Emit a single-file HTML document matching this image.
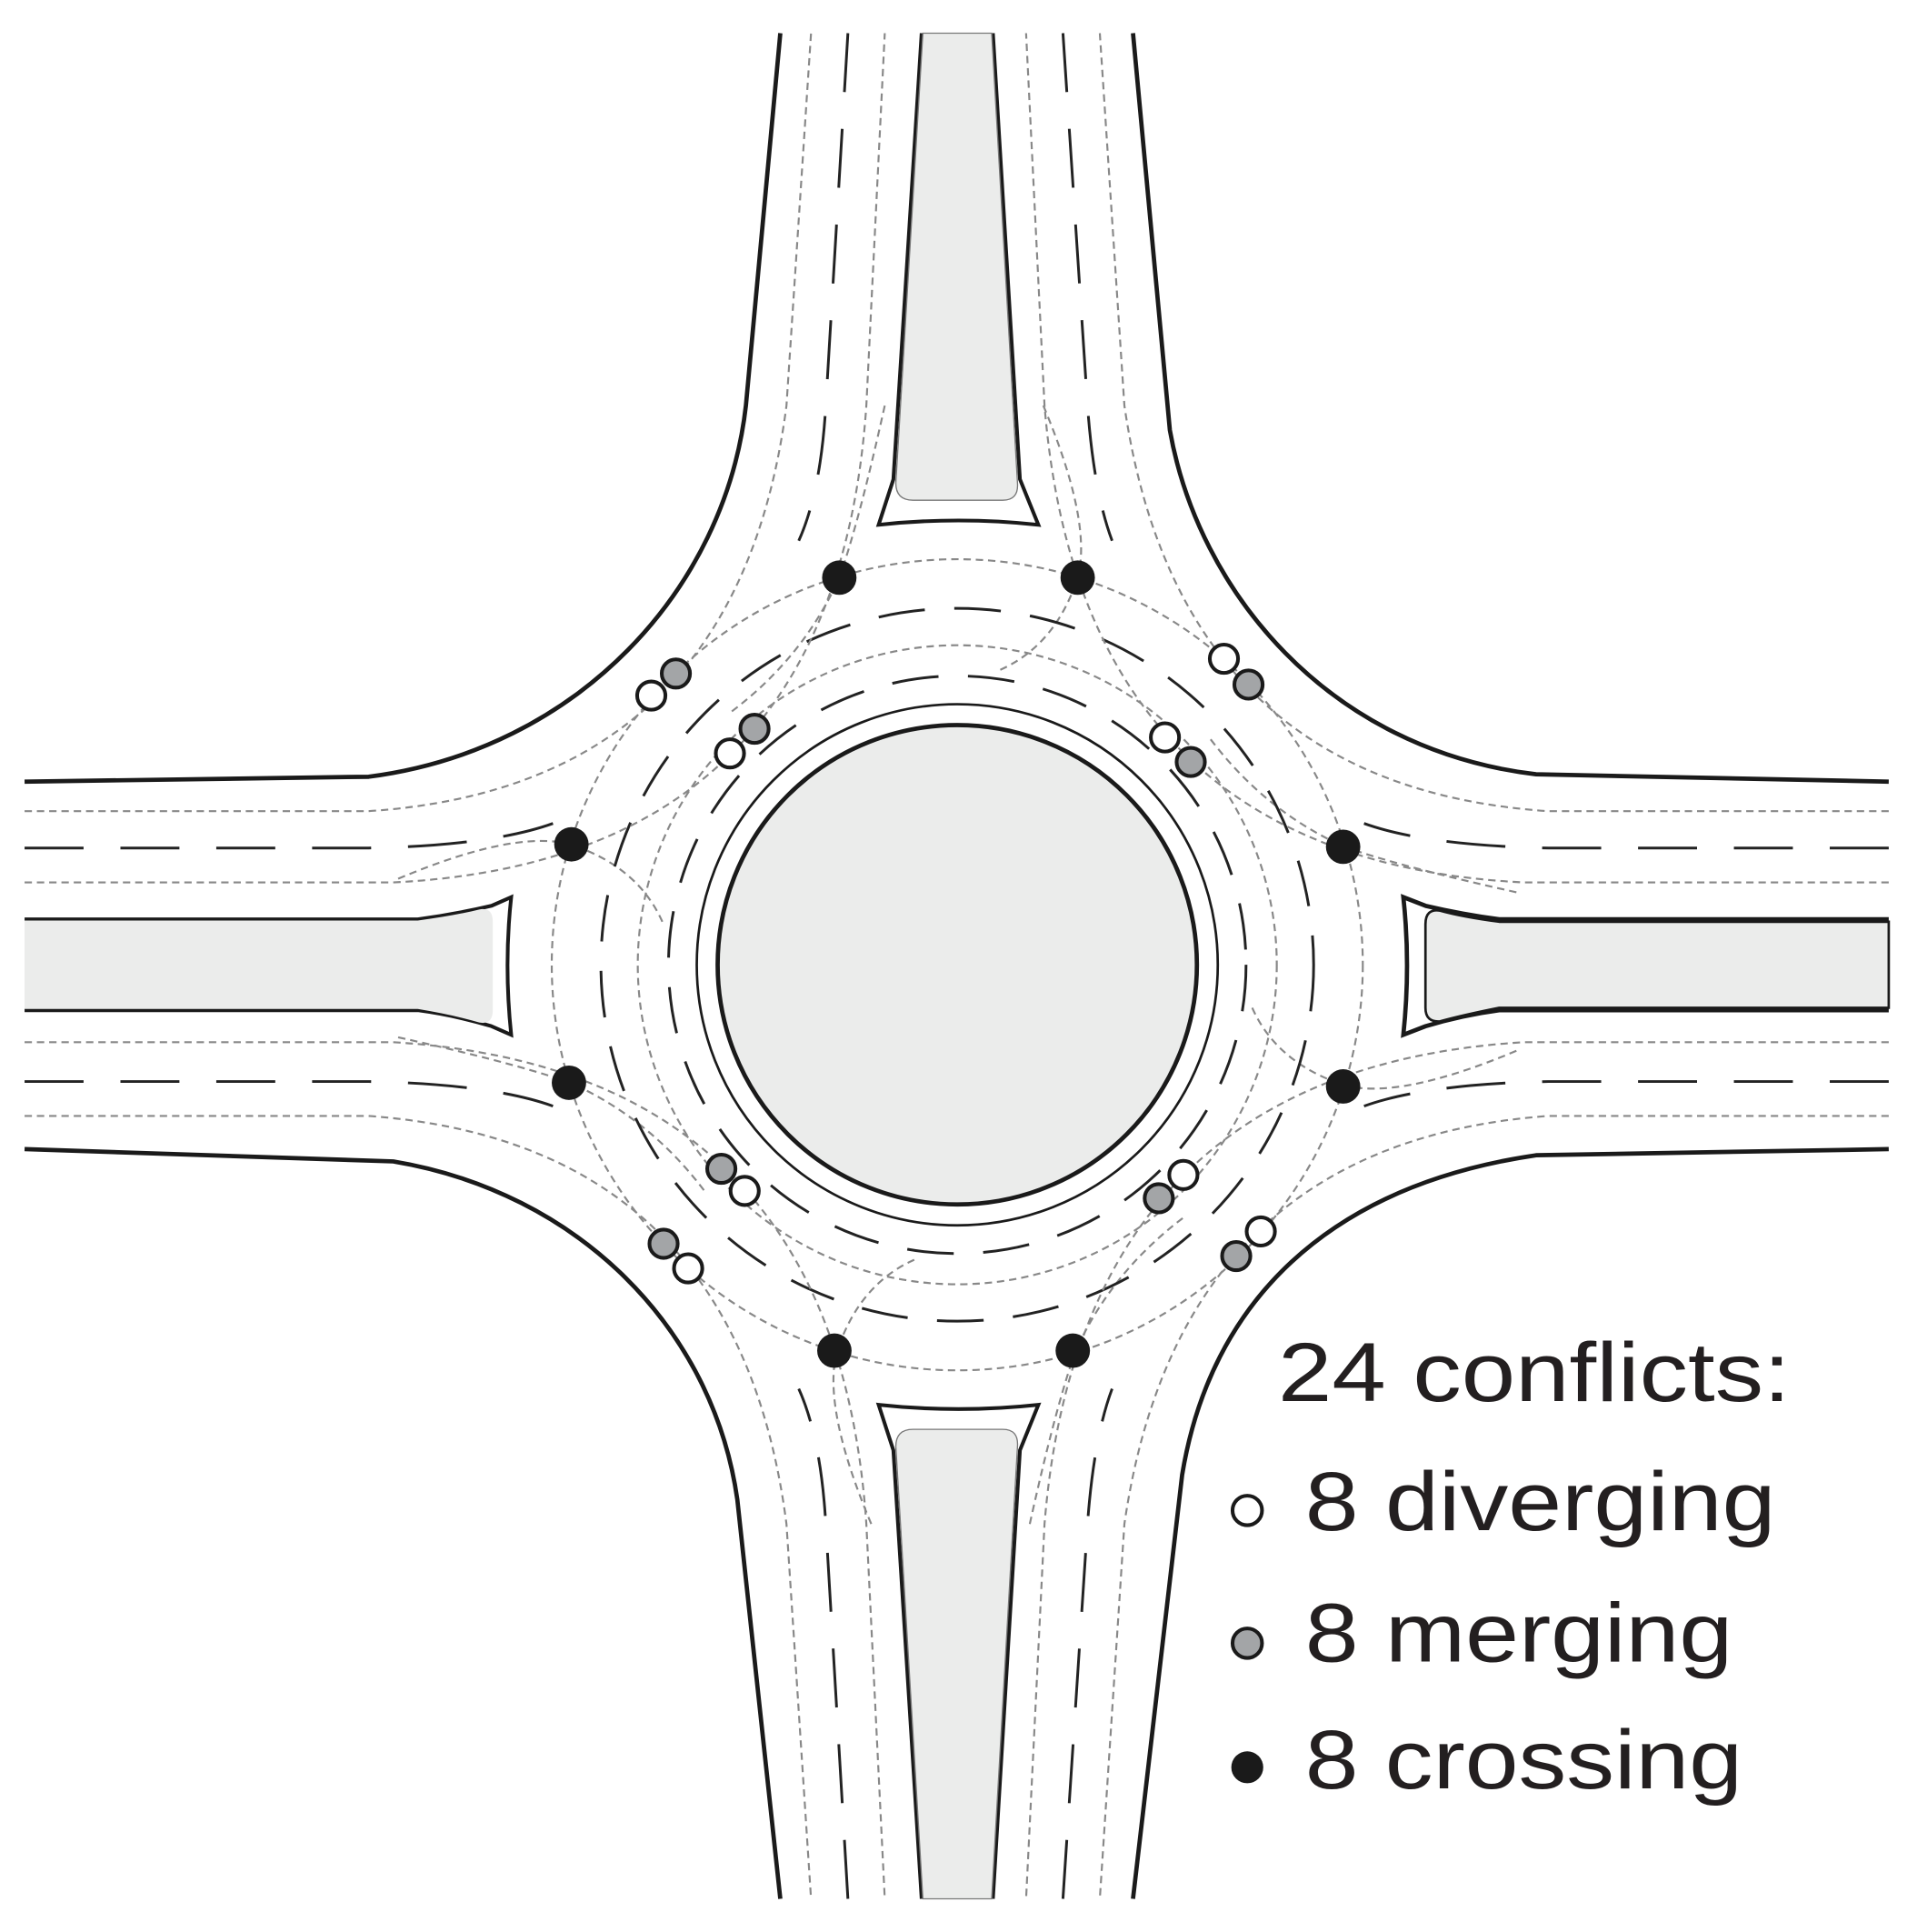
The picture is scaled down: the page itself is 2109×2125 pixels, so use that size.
<!DOCTYPE html>
<html><head><meta charset="utf-8">
<style>html,body{margin:0;padding:0;background:#fff}svg{display:block}</style>
</head><body>
<svg width="2109" height="2125" viewBox="0 0 1560 1572" preserveAspectRatio="none" xmlns="http://www.w3.org/2000/svg">
<rect width="1560" height="1572" fill="#fff"/>
<defs>
<g id="arm">
  <path d="M -59 -455 Q -80 -360 -96 -315 Q -125 -250 -185 -205" fill="none" stroke="#888" stroke-width="1.6" stroke-dasharray="6 4"/>
  <path d="M 70 -455 Q 110 -360 98 -315 Q 80 -260 35 -240" fill="none" stroke="#888" stroke-width="1.6" stroke-dasharray="6 4"/>
</g>
</defs>

<!-- ring -->
<g transform="translate(779 785)">
  <use href="#arm"/>
  <use href="#arm" transform="rotate(90)"/>
  <use href="#arm" transform="rotate(180)"/>
  <use href="#arm" transform="rotate(270)"/>
  <circle r="330" fill="none" stroke="#888" stroke-width="1.6" stroke-dasharray="6 4"/>
  <circle r="290" fill="none" stroke="#222" stroke-width="2.2" stroke-dasharray="38 24"/>
  <circle r="260" fill="none" stroke="#888" stroke-width="1.6" stroke-dasharray="6 4"/>
  <circle r="235" fill="none" stroke="#222" stroke-width="2.2" stroke-dasharray="38 24"/>
  <circle r="212" fill="none" stroke="#1a1a1a" stroke-width="2"/>
  <circle r="195" fill="#ebeceb" stroke="#1a1a1a" stroke-width="3.5"/>
</g>

<!-- road edges -->
<g fill="none" stroke="#1a1a1a" stroke-width="3.5">
  <path d="M 635 27 L 607 330 C 590 480 470 610 300 632 L 20 636"/>
  <path d="M 922 27 L 952 350 C 975 480 1080 610 1250 630 L 1537 636"/>
  <path d="M 20 935 L 320 945 C 470 970 580 1080 600 1220 L 635 1545"/>
  <path d="M 1537 935 L 1250 940 C 1080 965 985 1060 962 1200 L 922 1545"/>
</g>

<!-- gray corner paths -->
<g fill="none" stroke="#888" stroke-width="1.6" stroke-dasharray="6 4">
  <path d="M 20 660 L 300 660 Q 600 640 640 330 L 660 27"/>
  <path d="M 20 718 L 320 718 Q 680 700 705 330 L 720 27"/>
  <path d="M 1537 660 L 1260 660 Q 960 640 915 330 L 895 27"/>
  <path d="M 1537 718 L 1240 718 Q 880 700 850 330 L 835 27"/>
  <path d="M 20 908 L 300 908 Q 600 930 640 1240 L 660 1545"/>
  <path d="M 20 848 L 320 848 Q 680 870 705 1240 L 720 1545"/>
  <path d="M 1537 908 L 1260 908 Q 960 930 915 1240 L 895 1545"/>
  <path d="M 1537 848 L 1240 848 Q 880 870 850 1240 L 835 1545"/>
</g>

<!-- black dashed lane lines -->
<g fill="none" stroke="#222" stroke-width="2.2" stroke-dasharray="48 30">
  <path d="M 20 690 L 300 690 Q 400 688 450 670"/>
  <path d="M 20 880 L 300 880 Q 400 882 450 900"/>
  <path d="M 1537 690 L 1260 690 Q 1160 688 1110 670"/>
  <path d="M 1537 880 L 1260 880 Q 1160 882 1110 900"/>
  <path d="M 690 27 L 672 330 Q 668 400 650 440"/>
  <path d="M 865 27 L 885 330 Q 890 400 905 440"/>
  <path d="M 690 1545 L 672 1240 Q 668 1170 650 1130"/>
  <path d="M 865 1545 L 885 1240 Q 890 1170 905 1130"/>
</g>

<!-- splitter islands -->
<!-- top -->
<path d="M 750 27 L 727 390 L 715 427 Q 780 420 845 427 L 830 390 L 808 27" fill="none" stroke="#1a1a1a" stroke-width="3"/>
<path d="M 751 27 L 729 393 Q 729 407 743 407 L 816 407 Q 829 407 828 393 L 807 27 Z" fill="#ebeceb" stroke="#777" stroke-width="1"/>
<!-- bottom -->
<path d="M 750 1545 L 727 1180 L 715 1143 Q 780 1150 845 1143 L 830 1180 L 808 1545" fill="none" stroke="#1a1a1a" stroke-width="3"/>
<path d="M 751 1545 L 729 1177 Q 729 1163 743 1163 L 816 1163 Q 829 1163 828 1177 L 807 1545 Z" fill="#ebeceb" stroke="#777" stroke-width="1"/>
<!-- left -->
<path d="M 20 748 L 340 748 Q 370 744 400 737 L 416 730 Q 410 785 416 842 L 400 835 Q 370 826 340 822 L 20 822" fill="none" stroke="#1a1a1a" stroke-width="3"/>
<path d="M 20 749 L 340 749 Q 370 745 390 740 Q 401 738 401 750 L 401 822 Q 401 834 390 832 Q 370 826 340 821 L 20 821 Z" fill="#ebeceb" stroke="none"/>
<!-- right -->
<path d="M 1537 748 L 1220 748 Q 1190 744 1160 737 L 1142 730 Q 1148 785 1142 842 L 1160 835 Q 1190 826 1220 822 L 1537 822" fill="none" stroke="#1a1a1a" stroke-width="3.5"/>
<path d="M 1537 750 L 1220 750 Q 1190 746 1172 741 Q 1160 739 1160 752 L 1160 820 Q 1160 832 1172 831 Q 1190 826 1220 820 L 1537 820 Z" fill="#ebeceb" stroke="#1a1a1a" stroke-width="2"/>

<!-- crossing dots -->
<g fill="#1a1a1a">
  <circle cx="683" cy="470" r="14"/><circle cx="877" cy="470" r="14"/>
  <circle cx="465" cy="687" r="14"/><circle cx="1093" cy="689" r="14"/>
  <circle cx="463" cy="881" r="14"/><circle cx="1093" cy="884" r="14"/>
  <circle cx="679" cy="1099" r="14"/><circle cx="873" cy="1099" r="14"/>
</g>
<!-- merging -->
<g fill="#a3a5a7" stroke="#1a1a1a" stroke-width="3">
  <circle cx="550" cy="548" r="11.5"/><circle cx="614" cy="593" r="11.5"/>
  <circle cx="1016" cy="557" r="11.5"/><circle cx="969" cy="620" r="11.5"/>
  <circle cx="587" cy="951" r="11.5"/><circle cx="540" cy="1012" r="11.5"/>
  <circle cx="943" cy="975" r="11.5"/><circle cx="1006" cy="1022" r="11.5"/>
</g>
<!-- diverging -->
<g fill="#fff" stroke="#1a1a1a" stroke-width="3">
  <circle cx="530" cy="566" r="11.5"/><circle cx="594" cy="613" r="11.5"/>
  <circle cx="996" cy="536" r="11.5"/><circle cx="948" cy="600" r="11.5"/>
  <circle cx="606" cy="969" r="11.5"/><circle cx="560" cy="1032" r="11.5"/>
  <circle cx="963" cy="956" r="11.5"/><circle cx="1026" cy="1002" r="11.5"/>
</g>
<!-- legend -->
<circle cx="1015" cy="1229" r="12" fill="#fff" stroke="#1a1a1a" stroke-width="3"/>
<circle cx="1015" cy="1337" r="12" fill="#a3a5a7" stroke="#1a1a1a" stroke-width="3"/>
<circle cx="1015" cy="1438" r="13" fill="#1a1a1a"/>
<g font-family="Liberation Sans, Arial, sans-serif" font-size="68" fill="#231f20">
  <text x="1040" y="1140" textLength="417" lengthAdjust="spacingAndGlyphs">24 conflicts:</text>
  <text x="1062" y="1245" textLength="383" lengthAdjust="spacingAndGlyphs">8 diverging</text>
  <text x="1062" y="1352" textLength="348" lengthAdjust="spacingAndGlyphs">8 merging</text>
  <text x="1062" y="1455" textLength="356" lengthAdjust="spacingAndGlyphs">8 crossing</text>
</g>
</svg>
</body></html>
